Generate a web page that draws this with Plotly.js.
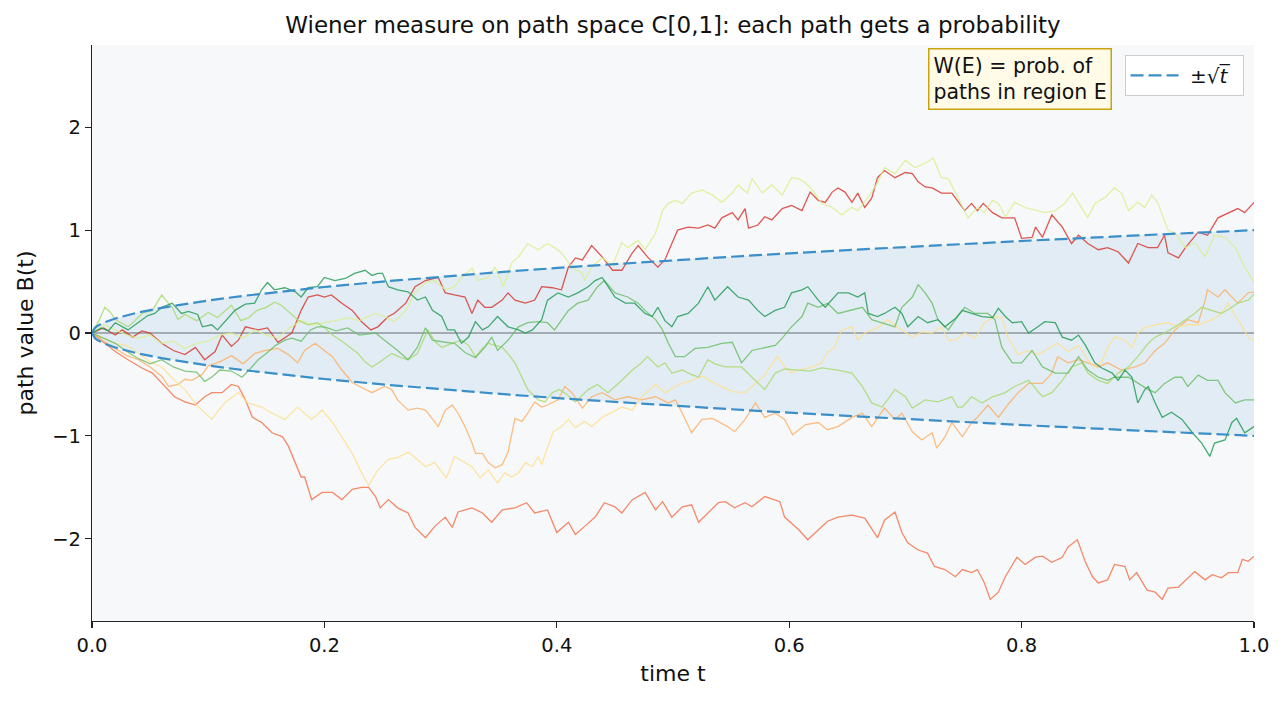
<!DOCTYPE html>
<html>
<head>
<meta charset="utf-8">
<script src="https://cdn.plot.ly/plotly-3.0.1.min.js"></script>
<style>
html,body{margin:0;padding:0;background:#fff;}
#chart{width:1285px;height:703px;}
</style>
</head>
<body>
<div id="chart"></div>
<script>
// ---- data ----
const pathRed = [[0,0],[0.01,0.05],[0.02,-0.02],[0.026,0.03],[0.035,-0.04],[0.043,0.02],[0.05,0.0],[0.06,-0.1],[0.07,-0.17],[0.08,-0.21],[0.089,-0.14],[0.097,-0.26],[0.106,-0.18],[0.112,-0.02],[0.12,-0.13],[0.126,-0.07],[0.132,0.06],[0.143,0.03],[0.151,0.05],[0.16,-0.09],[0.172,0.0],[0.18,0.22],[0.186,0.35],[0.194,0.37],[0.2,0.35],[0.206,0.37],[0.215,0.29],[0.224,0.22],[0.232,0.11],[0.24,0.03],[0.246,0.06],[0.255,0.16],[0.26,0.19],[0.27,0.29],[0.278,0.45],[0.287,0.51],[0.298,0.54],[0.304,0.39],[0.312,0.37],[0.321,0.35],[0.327,0.19],[0.332,0.32],[0.338,0.25],[0.344,0.25],[0.353,0.32],[0.358,0.39],[0.364,0.32],[0.373,0.29],[0.381,0.32],[0.387,0.45],[0.396,0.44],[0.404,0.42],[0.41,0.64],[0.416,0.73],[0.422,0.71],[0.43,0.85],[0.439,0.74],[0.448,0.61],[0.456,0.61],[0.465,0.78],[0.47,0.85],[0.478,0.74],[0.487,0.64],[0.493,0.71],[0.499,0.87],[0.504,1.0],[0.513,1.03],[0.522,1.02],[0.53,1.05],[0.536,1.02],[0.542,1.12],[0.551,1.17],[0.556,1.1],[0.562,1.21],[0.565,1.02],[0.573,1.05],[0.579,1.13],[0.585,1.1],[0.594,1.21],[0.602,1.24],[0.611,1.19],[0.614,1.26],[0.618,1.37],[0.625,1.29],[0.631,1.27],[0.637,1.37],[0.642,1.41],[0.648,1.37],[0.654,1.27],[0.659,1.36],[0.665,1.22],[0.671,1.31],[0.676,1.51],[0.682,1.58],[0.691,1.51],[0.7,1.56],[0.706,1.55],[0.711,1.47],[0.717,1.42],[0.723,1.41],[0.731,1.36],[0.74,1.36],[0.751,1.19],[0.757,1.26],[0.762,1.19],[0.767,1.26],[0.775,1.17],[0.783,1.12],[0.794,1.12],[0.8,0.92],[0.809,0.93],[0.812,1.03],[0.818,0.93],[0.826,1.15],[0.835,1.03],[0.843,0.87],[0.849,0.95],[0.857,0.87],[0.866,0.81],[0.874,0.83],[0.883,0.79],[0.892,0.68],[0.9,0.87],[0.909,0.83],[0.917,0.83],[0.923,0.95],[0.926,0.78],[0.935,0.73],[0.941,0.83],[0.952,0.98],[0.96,0.95],[0.969,1.12],[0.978,1.17],[0.986,1.21],[0.992,1.17],[1.0,1.27]];

const pathOrangeRed = [[0,0],[0.011,-0.1],[0.02,-0.18],[0.031,-0.26],[0.043,-0.34],[0.052,-0.39],[0.063,-0.52],[0.071,-0.62],[0.08,-0.67],[0.089,-0.7],[0.097,-0.62],[0.103,-0.58],[0.112,-0.58],[0.12,-0.5],[0.126,-0.52],[0.132,-0.65],[0.138,-0.82],[0.146,-0.87],[0.155,-0.97],[0.164,-1.01],[0.169,-1.1],[0.175,-1.26],[0.18,-1.4],[0.183,-1.4],[0.189,-1.62],[0.198,-1.55],[0.207,-1.55],[0.215,-1.62],[0.224,-1.52],[0.232,-1.5],[0.238,-1.5],[0.244,-1.59],[0.248,-1.7],[0.255,-1.62],[0.263,-1.7],[0.272,-1.75],[0.278,-1.89],[0.287,-1.99],[0.295,-1.88],[0.304,-1.79],[0.31,-1.89],[0.315,-1.74],[0.327,-1.7],[0.336,-1.75],[0.344,-1.84],[0.353,-1.72],[0.364,-1.7],[0.374,-1.65],[0.381,-1.75],[0.392,-1.72],[0.4,-1.94],[0.41,-1.84],[0.416,-1.96],[0.424,-1.88],[0.433,-1.79],[0.441,-1.65],[0.45,-1.69],[0.456,-1.75],[0.465,-1.62],[0.476,-1.55],[0.485,-1.72],[0.491,-1.64],[0.499,-1.79],[0.508,-1.69],[0.516,-1.67],[0.522,-1.84],[0.53,-1.75],[0.539,-1.65],[0.545,-1.64],[0.553,-1.7],[0.562,-1.65],[0.568,-1.69],[0.579,-1.59],[0.588,-1.62],[0.592,-1.64],[0.596,-1.79],[0.608,-1.91],[0.616,-2.01],[0.625,-1.91],[0.633,-1.83],[0.642,-1.79],[0.654,-1.77],[0.665,-1.8],[0.671,-1.91],[0.676,-1.99],[0.682,-1.82],[0.691,-1.74],[0.697,-1.94],[0.702,-2.04],[0.711,-2.11],[0.719,-2.14],[0.725,-2.27],[0.734,-2.3],[0.743,-2.37],[0.749,-2.3],[0.757,-2.33],[0.762,-2.3],[0.768,-2.43],[0.773,-2.59],[0.78,-2.52],[0.786,-2.37],[0.796,-2.18],[0.803,-2.25],[0.812,-2.18],[0.818,-2.17],[0.826,-2.23],[0.835,-2.18],[0.84,-2.08],[0.848,-2.01],[0.855,-2.23],[0.861,-2.37],[0.866,-2.43],[0.874,-2.4],[0.88,-2.25],[0.889,-2.27],[0.893,-2.4],[0.899,-2.33],[0.908,-2.5],[0.915,-2.52],[0.921,-2.59],[0.926,-2.48],[0.935,-2.47],[0.943,-2.38],[0.949,-2.32],[0.958,-2.4],[0.964,-2.35],[0.972,-2.38],[0.978,-2.33],[0.986,-2.33],[0.99,-2.2],[0.995,-2.22],[1.0,-2.17]];

const pathOrange = [[0,0],[0.01,-0.08],[0.02,-0.15],[0.03,-0.22],[0.04,-0.26],[0.05,-0.33],[0.06,-0.42],[0.066,-0.52],[0.074,-0.5],[0.08,-0.45],[0.086,-0.46],[0.095,-0.4],[0.1,-0.32],[0.11,-0.28],[0.12,-0.22],[0.13,-0.3],[0.14,-0.2],[0.149,-0.17],[0.16,-0.15],[0.169,-0.21],[0.177,-0.29],[0.183,-0.17],[0.192,-0.1],[0.198,-0.15],[0.207,-0.23],[0.215,-0.36],[0.224,-0.48],[0.232,-0.53],[0.241,-0.58],[0.246,-0.55],[0.252,-0.52],[0.258,-0.55],[0.263,-0.65],[0.272,-0.75],[0.28,-0.73],[0.287,-0.75],[0.293,-0.84],[0.298,-0.91],[0.304,-0.75],[0.31,-0.7],[0.315,-0.78],[0.321,-0.91],[0.327,-1.07],[0.33,-1.17],[0.336,-1.17],[0.341,-1.26],[0.347,-1.31],[0.353,-1.28],[0.358,-1.16],[0.361,-1.01],[0.364,-0.83],[0.37,-0.86],[0.375,-0.78],[0.381,-0.67],[0.387,-0.72],[0.392,-0.7],[0.401,-0.65],[0.407,-0.52],[0.413,-0.58],[0.422,-0.73],[0.43,-0.62],[0.439,-0.58],[0.45,-0.65],[0.461,-0.62],[0.473,-0.65],[0.485,-0.62],[0.496,-0.68],[0.502,-0.65],[0.508,-0.78],[0.516,-0.97],[0.525,-0.84],[0.534,-0.83],[0.539,-0.86],[0.547,-0.91],[0.553,-0.96],[0.562,-0.84],[0.571,-0.68],[0.579,-0.82],[0.588,-0.78],[0.596,-0.84],[0.603,-0.99],[0.614,-0.89],[0.625,-0.87],[0.633,-0.94],[0.642,-0.91],[0.654,-0.82],[0.663,-0.78],[0.671,-0.91],[0.682,-0.73],[0.691,-0.84],[0.697,-0.78],[0.706,-0.96],[0.714,-1.04],[0.723,-0.97],[0.727,-1.12],[0.734,-1.01],[0.74,-0.87],[0.749,-1.01],[0.757,-0.87],[0.762,-0.82],[0.771,-0.7],[0.78,-0.82],[0.788,-0.7],[0.797,-0.58],[0.806,-0.49],[0.818,-0.49],[0.826,-0.39],[0.831,-0.23],[0.84,-0.29],[0.849,-0.26],[0.857,-0.29],[0.866,-0.33],[0.874,-0.29],[0.886,-0.36],[0.898,-0.33],[0.906,-0.29],[0.915,-0.17],[0.923,-0.1],[0.932,0.03],[0.943,0.13],[0.952,0.1],[0.958,0.32],[0.96,0.42],[0.969,0.35],[0.975,0.42],[0.981,0.35],[0.986,0.29],[0.995,0.39],[1.0,0.4]];

const pathYellow = [[0,0],[0.01,-0.05],[0.02,-0.1],[0.03,-0.12],[0.04,-0.2],[0.05,-0.28],[0.06,-0.33],[0.07,-0.45],[0.08,-0.55],[0.09,-0.7],[0.103,-0.84],[0.114,-0.68],[0.126,-0.58],[0.134,-0.68],[0.146,-0.72],[0.155,-0.78],[0.166,-0.84],[0.177,-0.72],[0.189,-0.84],[0.198,-0.75],[0.207,-0.87],[0.215,-1.01],[0.224,-1.17],[0.232,-1.36],[0.238,-1.48],[0.246,-1.33],[0.255,-1.23],[0.263,-1.21],[0.272,-1.16],[0.278,-1.21],[0.287,-1.3],[0.295,-1.26],[0.305,-1.41],[0.312,-1.2],[0.319,-1.25],[0.327,-1.3],[0.334,-1.41],[0.341,-1.33],[0.349,-1.46],[0.355,-1.36],[0.361,-1.4],[0.367,-1.36],[0.373,-1.26],[0.379,-1.3],[0.384,-1.2],[0.387,-1.28],[0.392,-1.11],[0.397,-0.96],[0.404,-0.91],[0.41,-0.84],[0.416,-0.92],[0.424,-0.86],[0.43,-0.91],[0.439,-0.82],[0.448,-0.77],[0.456,-0.72],[0.465,-0.75],[0.473,-0.62],[0.485,-0.5],[0.493,-0.58],[0.502,-0.52],[0.508,-0.49],[0.516,-0.46],[0.525,-0.42],[0.536,-0.49],[0.551,-0.57],[0.562,-0.58],[0.571,-0.49],[0.579,-0.41],[0.585,-0.3],[0.59,-0.23],[0.596,-0.33],[0.602,-0.39],[0.608,-0.36],[0.62,-0.33],[0.628,-0.29],[0.633,-0.19],[0.639,-0.14],[0.645,0.03],[0.654,0.06],[0.659,-0.07],[0.665,0.0],[0.676,0.05],[0.685,0.13],[0.694,0.05],[0.706,-0.04],[0.714,0.01],[0.723,0.0],[0.731,0.06],[0.737,-0.07],[0.743,-0.07],[0.751,0.0],[0.76,-0.05],[0.768,0.1],[0.777,0.16],[0.783,0.15],[0.788,-0.04],[0.797,-0.21],[0.806,-0.17],[0.814,-0.21],[0.823,-0.15],[0.831,-0.1],[0.84,-0.18],[0.849,-0.12],[0.857,-0.26],[0.863,-0.33],[0.869,-0.28],[0.874,-0.14],[0.88,-0.04],[0.889,-0.07],[0.895,-0.14],[0.9,0.0],[0.906,0.05],[0.915,0.08],[0.926,0.1],[0.935,0.06],[0.943,0.08],[0.952,0.08],[0.964,0.13],[0.972,0.19],[0.978,0.29],[0.984,0.16],[0.99,0.06],[0.995,-0.04],[1.0,-0.08]];

const pathYellowGreen = [[0,0],[0.01,0.08],[0.02,0.03],[0.03,-0.02],[0.04,-0.05],[0.05,-0.02],[0.06,-0.1],[0.07,-0.08],[0.08,-0.15],[0.09,-0.1],[0.1,-0.08],[0.11,-0.02],[0.12,0.0],[0.13,-0.05],[0.14,0.03],[0.15,-0.02],[0.16,-0.05],[0.17,0.05],[0.18,0.12],[0.19,0.08],[0.2,0.1],[0.21,0.12],[0.22,0.15],[0.23,0.12],[0.244,0.19],[0.252,0.16],[0.26,0.11],[0.27,0.22],[0.278,0.39],[0.287,0.49],[0.295,0.51],[0.304,0.42],[0.312,0.45],[0.318,0.54],[0.327,0.63],[0.332,0.51],[0.341,0.54],[0.347,0.64],[0.354,0.45],[0.361,0.68],[0.367,0.74],[0.375,0.87],[0.384,0.81],[0.392,0.87],[0.398,0.83],[0.404,0.78],[0.413,0.64],[0.422,0.58],[0.424,0.51],[0.43,0.64],[0.439,0.73],[0.448,0.66],[0.456,0.88],[0.461,0.83],[0.47,0.9],[0.476,0.81],[0.485,0.97],[0.491,1.19],[0.496,1.26],[0.502,1.29],[0.508,1.26],[0.516,1.36],[0.525,1.39],[0.534,1.34],[0.542,1.27],[0.551,1.36],[0.556,1.44],[0.564,1.36],[0.568,1.5],[0.577,1.36],[0.585,1.44],[0.594,1.34],[0.602,1.51],[0.608,1.5],[0.614,1.46],[0.62,1.39],[0.628,1.26],[0.637,1.22],[0.645,1.15],[0.654,1.22],[0.659,1.19],[0.668,1.32],[0.676,1.46],[0.682,1.61],[0.691,1.55],[0.7,1.68],[0.708,1.61],[0.717,1.65],[0.724,1.7],[0.731,1.51],[0.737,1.5],[0.743,1.36],[0.749,1.22],[0.754,1.12],[0.762,1.22],[0.768,1.17],[0.775,1.29],[0.78,1.26],[0.786,1.13],[0.794,1.27],[0.803,1.22],[0.812,1.19],[0.82,1.17],[0.829,1.19],[0.837,1.26],[0.844,1.36],[0.852,1.22],[0.857,1.12],[0.863,1.26],[0.872,1.32],[0.88,1.41],[0.886,1.36],[0.892,1.19],[0.9,1.27],[0.906,1.22],[0.912,1.34],[0.917,1.27],[0.926,1.0],[0.932,0.97],[0.941,0.83],[0.949,0.88],[0.958,0.74],[0.966,0.95],[0.975,0.93],[0.984,0.83],[0.992,0.64],[1.0,0.49]];

const pathLightGreen = [[0,0],[0.006,0.12],[0.011,0.25],[0.016,0.2],[0.02,0.13],[0.031,0.06],[0.037,0.12],[0.043,0.19],[0.052,0.22],[0.06,0.37],[0.065,0.3],[0.069,0.25],[0.074,0.13],[0.08,0.18],[0.09,0.12],[0.1,0.2],[0.108,0.15],[0.115,0.22],[0.12,0.27],[0.128,0.12],[0.135,0.15],[0.142,0.22],[0.15,0.25],[0.157,0.3],[0.163,0.27],[0.17,0.2],[0.178,0.12],[0.186,0.08],[0.194,0.1],[0.2,0.05],[0.207,-0.02],[0.215,-0.08],[0.222,-0.14],[0.229,-0.2],[0.235,-0.28],[0.241,-0.33],[0.248,-0.28],[0.258,-0.2],[0.266,-0.24],[0.272,-0.26],[0.28,-0.2],[0.289,0.03],[0.295,-0.08],[0.301,-0.14],[0.31,-0.1],[0.318,-0.07],[0.324,-0.12],[0.33,-0.23],[0.336,-0.15],[0.341,-0.1],[0.347,-0.12],[0.353,-0.14],[0.358,-0.2],[0.364,-0.29],[0.37,-0.43],[0.375,-0.55],[0.384,-0.65],[0.39,-0.67],[0.396,-0.58],[0.402,-0.55],[0.409,-0.6],[0.416,-0.67],[0.427,-0.55],[0.435,-0.5],[0.444,-0.58],[0.456,-0.46],[0.465,-0.36],[0.472,-0.3],[0.478,-0.23],[0.487,-0.33],[0.493,-0.29],[0.499,-0.39],[0.508,-0.36],[0.515,-0.4],[0.522,-0.43],[0.53,-0.26],[0.536,-0.3],[0.545,-0.33],[0.559,-0.33],[0.568,-0.43],[0.579,-0.55],[0.588,-0.39],[0.596,-0.35],[0.608,-0.36],[0.618,-0.37],[0.628,-0.34],[0.642,-0.36],[0.654,-0.39],[0.663,-0.52],[0.671,-0.68],[0.68,-0.72],[0.691,-0.55],[0.7,-0.62],[0.706,-0.73],[0.717,-0.65],[0.728,-0.67],[0.74,-0.62],[0.745,-0.72],[0.749,-0.72],[0.757,-0.62],[0.766,-0.68],[0.775,-0.62],[0.786,-0.58],[0.794,-0.52],[0.806,-0.46],[0.818,-0.62],[0.826,-0.58],[0.835,-0.46],[0.843,-0.33],[0.852,-0.29],[0.857,-0.39],[0.866,-0.46],[0.874,-0.49],[0.883,-0.39],[0.892,-0.33],[0.9,-0.23],[0.909,-0.1],[0.915,-0.04],[0.923,0.0],[0.932,0.06],[0.941,0.13],[0.949,0.19],[0.955,0.25],[0.964,0.22],[0.972,0.19],[0.981,0.25],[0.986,0.29],[0.995,0.32],[1.0,0.38]];

const pathGreen = [[0,0],[0.01,-0.05],[0.02,-0.1],[0.03,-0.18],[0.04,-0.25],[0.05,-0.3],[0.06,-0.26],[0.07,-0.33],[0.08,-0.37],[0.09,-0.38],[0.097,-0.47],[0.103,-0.43],[0.11,-0.36],[0.12,-0.37],[0.129,-0.43],[0.136,-0.35],[0.143,-0.26],[0.15,-0.2],[0.158,-0.12],[0.166,-0.07],[0.172,-0.05],[0.18,-0.08],[0.188,0.03],[0.194,0.06],[0.2,0.06],[0.21,0.02],[0.22,0.05],[0.23,-0.02],[0.244,0.0],[0.255,-0.1],[0.263,-0.17],[0.272,-0.26],[0.28,-0.14],[0.287,0.05],[0.293,-0.07],[0.304,-0.09],[0.312,-0.1],[0.321,-0.19],[0.33,-0.24],[0.338,-0.14],[0.344,-0.04],[0.349,-0.17],[0.358,-0.07],[0.367,0.06],[0.375,0.1],[0.384,0.11],[0.392,0.1],[0.398,0.03],[0.404,0.13],[0.41,0.22],[0.418,0.29],[0.427,0.32],[0.435,0.45],[0.441,0.51],[0.45,0.39],[0.461,0.35],[0.47,0.29],[0.476,0.22],[0.485,0.13],[0.491,0.03],[0.496,-0.1],[0.502,-0.23],[0.51,-0.23],[0.519,-0.15],[0.53,-0.14],[0.542,-0.1],[0.551,-0.09],[0.559,-0.29],[0.568,-0.17],[0.579,-0.14],[0.588,-0.12],[0.594,-0.05],[0.602,0.06],[0.611,0.16],[0.616,0.29],[0.625,0.25],[0.633,0.29],[0.642,0.19],[0.654,0.22],[0.663,0.25],[0.671,0.13],[0.68,0.1],[0.691,0.06],[0.697,0.25],[0.706,0.35],[0.711,0.47],[0.717,0.39],[0.723,0.29],[0.728,0.13],[0.737,0.03],[0.743,0.13],[0.751,0.25],[0.76,0.19],[0.771,0.19],[0.777,0.13],[0.783,-0.14],[0.792,-0.29],[0.8,-0.29],[0.809,-0.17],[0.818,-0.33],[0.829,-0.39],[0.84,-0.39],[0.849,-0.23],[0.857,-0.36],[0.866,-0.43],[0.874,-0.46],[0.88,-0.43],[0.892,-0.43],[0.9,-0.49],[0.909,-0.55],[0.915,-0.58],[0.923,-0.49],[0.932,-0.43],[0.938,-0.43],[0.943,-0.52],[0.952,-0.41],[0.96,-0.46],[0.969,-0.46],[0.975,-0.58],[0.984,-0.68],[0.992,-0.65],[1.0,-0.65]];

const pathDarkGreen = [[0,0],[0.008,0.05],[0.014,0.02],[0.02,0.1],[0.031,0.03],[0.04,0.1],[0.048,0.17],[0.054,0.19],[0.06,0.25],[0.069,0.29],[0.077,0.19],[0.083,0.21],[0.091,0.18],[0.095,0.06],[0.103,0.08],[0.108,0.03],[0.114,0.11],[0.123,0.22],[0.132,0.28],[0.14,0.29],[0.146,0.42],[0.151,0.49],[0.157,0.42],[0.166,0.44],[0.175,0.4],[0.18,0.35],[0.186,0.44],[0.194,0.45],[0.2,0.54],[0.209,0.51],[0.218,0.53],[0.226,0.58],[0.235,0.61],[0.241,0.56],[0.246,0.58],[0.25,0.58],[0.255,0.45],[0.263,0.42],[0.272,0.4],[0.28,0.32],[0.287,0.35],[0.293,0.22],[0.301,0.16],[0.306,0.03],[0.312,0.03],[0.318,-0.1],[0.324,-0.04],[0.33,0.11],[0.336,0.03],[0.341,0.06],[0.349,0.16],[0.358,0.06],[0.367,0.03],[0.373,0.0],[0.379,0.03],[0.387,0.13],[0.392,0.32],[0.401,0.39],[0.41,0.35],[0.418,0.39],[0.427,0.45],[0.433,0.51],[0.439,0.54],[0.444,0.45],[0.45,0.35],[0.459,0.29],[0.467,0.29],[0.476,0.19],[0.482,0.16],[0.487,0.25],[0.493,0.12],[0.499,0.06],[0.504,0.16],[0.513,0.19],[0.522,0.29],[0.53,0.45],[0.536,0.32],[0.547,0.45],[0.556,0.35],[0.565,0.32],[0.573,0.22],[0.579,0.16],[0.588,0.22],[0.596,0.25],[0.602,0.39],[0.611,0.42],[0.616,0.45],[0.625,0.32],[0.631,0.25],[0.642,0.39],[0.651,0.39],[0.659,0.35],[0.665,0.39],[0.668,0.19],[0.676,0.16],[0.682,0.19],[0.691,0.25],[0.697,0.19],[0.702,0.06],[0.711,0.16],[0.719,0.1],[0.728,0.13],[0.734,0.06],[0.743,0.14],[0.749,0.22],[0.757,0.19],[0.766,0.16],[0.775,0.15],[0.78,0.24],[0.786,0.16],[0.792,0.1],[0.8,0.11],[0.806,0.0],[0.814,0.06],[0.82,0.11],[0.829,0.1],[0.835,-0.04],[0.843,-0.07],[0.849,-0.02],[0.855,-0.12],[0.863,-0.29],[0.869,-0.34],[0.878,-0.39],[0.883,-0.46],[0.889,-0.36],[0.895,-0.43],[0.9,-0.68],[0.906,-0.55],[0.909,-0.52],[0.915,-0.68],[0.921,-0.82],[0.929,-0.77],[0.938,-0.84],[0.947,-0.97],[0.955,-1.07],[0.962,-1.2],[0.966,-1.07],[0.975,-1.04],[0.981,-0.87],[0.985,-0.83],[0.992,-0.97],[1.0,-0.91]];

const pathList = [pathRed, pathOrangeRed, pathOrange, pathYellow, pathYellowGreen, pathLightGreen, pathGreen, pathDarkGreen];
const pathColors = ['#d73027', '#f46d43', '#fdae61', '#fee08b', '#d9ef8b', '#a6d96a', '#66bd63', '#1a9850'];

// boundary ±sqrt(t), tabulated
const tBand = [0, 0.0025, 0.005, 0.01, 0.02, 0.03, 0.04, 0.06, 0.08, 0.1, 0.13, 0.16, 0.2, 0.25, 0.3, 0.36, 0.42, 0.49, 0.56, 0.64, 0.72, 0.81, 0.9, 1.0];
const sqrtBand = [0, 0.05, 0.0707, 0.1, 0.1414, 0.1732, 0.2, 0.2449, 0.2828, 0.3162, 0.3606, 0.4, 0.4472, 0.5, 0.5477, 0.6, 0.6481, 0.7, 0.7483, 0.8, 0.8485, 0.9, 0.9487, 1.0];

const xTicks = [0, 0.2, 0.4, 0.6, 0.8, 1.0];
const yTicks = [-2, -1, 0, 1, 2];

// ---- traces ----
const FONT = 'DejaVu Sans, Liberation Sans, sans-serif';
const negBand = sqrtBand.map(v => -v);
const traces = [];
traces.push({x: tBand, y: negBand, mode: 'lines', line: {width: 0, color: 'rgba(0,0,0,0)'}, showlegend: false, hoverinfo: 'skip'});
traces.push({x: tBand, y: sqrtBand, mode: 'lines', line: {width: 0, color: 'rgba(0,0,0,0)'}, fill: 'tonexty', fillcolor: 'rgba(52,138,199,0.10)', showlegend: false, hoverinfo: 'skip'});

pathList.forEach((p, i) => {
  traces.push({
    x: p.map(d => d[0]), y: p.map(d => d[1]),
    mode: 'lines', line: {color: pathColors[i], width: 1.3},
    opacity: 0.8, showlegend: false, hoverinfo: 'skip'
  });
});

traces.push({x: tBand, y: sqrtBand, mode: 'lines', name: ' ±√<i>t\u0305</i>\u2002', line: {color: '#3a8fc8', width: 2.2, dash: '13px,5px'}, showlegend: true});
traces.push({x: tBand, y: negBand, mode: 'lines', line: {color: '#3a8fc8', width: 2.2, dash: '13px,5px'}, showlegend: false});

const layout = {
  width: 1285, height: 703,
  margin: {l: 92, r: 31, t: 45, b: 82},
  paper_bgcolor: '#ffffff',
  plot_bgcolor: '#f7f8fa',
  font: {family: FONT, color: '#111', size: 19},
  title: {text: 'Wiener measure on path space C[0,1]: each path gets a probability', font: {family: FONT, size: 23, color: '#111'}, x: 0.5, xref: 'paper', y: 1 - 25/703, yref: 'container', yanchor: 'middle'},
  xaxis: {
    range: [0, 1], tickvals: xTicks, tickformat: '.1f',
    ticks: 'outside', ticklen: 6, tickwidth: 1.2, tickcolor: '#222',
    showline: true, linecolor: '#222', linewidth: 1.2,
    showgrid: false, zeroline: false,
    tickfont: {family: FONT, size: 19.5, color: '#111'},
    title: {text: 'time t', font: {family: FONT, size: 22, color: '#111'}, standoff: 10}
  },
  yaxis: {
    range: [-2.8, 2.8], tickvals: yTicks,
    ticks: 'outside', ticklen: 6, tickwidth: 1.2, tickcolor: '#222',
    showline: true, linecolor: '#222', linewidth: 1.2,
    showgrid: false, zeroline: false,
    tickfont: {family: FONT, size: 19.5, color: '#111'},
    title: {text: 'path value B(t)', font: {family: FONT, size: 22, color: '#111'}, standoff: 12}
  },
  shapes: [{type: 'line', xref: 'paper', x0: 0, x1: 1, yref: 'y', y0: 0, y1: 0, line: {color: '#999999', width: 1.3}, layer: 'below'}],
  showlegend: true,
  legend: {
    x: 0.991, y: 0.983, xanchor: 'right', yanchor: 'top',
    bgcolor: '#ffffff', bordercolor: '#cccccc', borderwidth: 1,
    itemwidth: 48,
    font: {family: FONT, size: 20, color: '#111'}
  },
  annotations: [{
    xref: 'paper', yref: 'paper', x: 0.878, y: 0.995, xanchor: 'right', yanchor: 'top',
    text: 'W(E) = prob. of<br>paths in region E', align: 'left', showarrow: false,
    font: {family: FONT, size: 20.5, color: '#111'},
    bgcolor: '#fffbe6', bordercolor: '#c9a30e', borderwidth: 1.5, borderpad: 4
  }]
};

Plotly.newPlot('chart', traces, layout, {displayModeBar: false, staticPlot: true});
</script>
</body>
</html>
